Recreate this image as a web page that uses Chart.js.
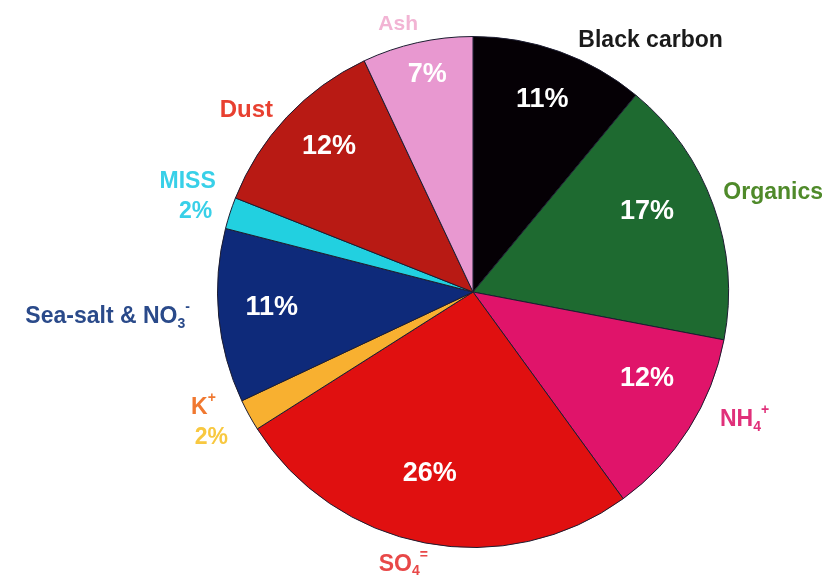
<!DOCTYPE html>
<html>
<head>
<meta charset="utf-8">
<script src="https://cdn.jsdelivr.net/npm/chart.js@4/dist/chart.umd.min.js"></script>
<style>
  body { margin: 0; background: #ffffff; }
  #chart-holder { width: 822px; height: 578px; }
</style>
</head>
<body>
<div id="chart-holder"><canvas id="chart" width="822" height="578"></canvas></div>
<script>
// clockwise from 12 o'clock
var categories = ['Black carbon', 'Organics', 'NH4+', 'SO4=', 'K+', 'Sea-salt & NO3-', 'MISS', 'Dust', 'Ash'];
var shares = [11, 17, 12, 26, 2, 11, 2, 12, 7];

var sliceColours = ['#050005', '#1e6a30', '#e0146a', '#e01010', '#f8b030', '#0e2a7a', '#22d0e0', '#b81a14', '#e898d0'];
var labelColours = ['#1a1a1a', '#4f8a2a', '#e0307a', '#e84848', '#f07830', '#2a4a8a', '#38d0e8', '#e84030', '#f2b4d4'];
var smallPctColours = { 4: '#f8c840', 6: '#38d0e8' };

// where the outside names sit, in units of the pie radius from its centre
var nameDx = [0.695, 1.175, 1.063, -0.273, -1.055, -1.43, -1.117, -0.887, -0.293];
var nameDy = [-0.984, -0.387, 0.5, 1.066, 0.453, 0.098, -0.43, -0.711, -1.047];
var nameSize = [23, 23, 23, 23, 23, 23, 23, 24, 21];
// inside % labels: radius factor and small angle nudge (deg)
var pctR = [0.8, 0.75, 0.76, 0.73, 0.8, 0.79, 0.8, 0.8, 0.87];
var pctShift = [0, -5, -6, 2.6, 0, 1, 0, 2, 0.7];

var FONT = '"Liberation Sans", Arial, Helvetica, sans-serif';

function parseLabel(text) {
  var segs = [];
  for (var i = 0; i < text.length; i++) {
    var ch = text[i];
    var prev = i > 0 ? text[i - 1] : '';
    var kind = 'n';
    if (/[0-9]/.test(ch) && /[A-Za-z]/.test(prev)) kind = 'sub';
    else if (i === text.length - 1 && /[+\-=]/.test(ch) && prev !== ' ') kind = 'sup';
    if (segs.length && segs[segs.length - 1].kind === kind) segs[segs.length - 1].t += ch;
    else segs.push({ t: ch, kind: kind });
  }
  return segs;
}

function drawRich(ctx, text, cx, cy, size, colour) {
  var segs = parseLabel(text);
  var small = Math.round(size * 0.62);
  var total = 0;
  segs.forEach(function(s) {
    ctx.font = 'bold ' + (s.kind === 'n' ? size : small) + 'px ' + FONT;
    s.w = ctx.measureText(s.t).width;
    total += s.w;
  });
  var x = cx - total / 2;
  ctx.fillStyle = colour;
  ctx.textAlign = 'left';
  ctx.textBaseline = 'middle';
  segs.forEach(function(s) {
    var dy = 0;
    if (s.kind === 'sub') dy = size * 0.3;
    if (s.kind === 'sup') dy = -size * 0.42;
    ctx.font = 'bold ' + (s.kind === 'n' ? size : small) + 'px ' + FONT;
    ctx.fillText(s.t, x, cy + dy);
    x += s.w;
  });
}

var sliceLabels = {
  id: 'sliceLabels',
  afterDatasetsDraw: function(chart) {
    var ctx = chart.ctx;
    var meta = chart.getDatasetMeta(0);
    ctx.save();
    meta.data.forEach(function(arc, i) {
      var r = arc.outerRadius;
      var mid = (arc.startAngle + arc.endAngle) / 2 + pctShift[i] * Math.PI / 180;
      var pct = shares[i] + '%';
      var nx = arc.x + nameDx[i] * r;
      var ny = arc.y + nameDy[i] * r;
      drawRich(ctx, categories[i], nx, ny, nameSize[i], labelColours[i]);
      if (shares[i] >= 5) {
        var px = arc.x + Math.cos(mid) * r * pctR[i];
        var py = arc.y + Math.sin(mid) * r * pctR[i];
        drawRich(ctx, pct, px, py, 27, '#ffffff');
      } else {
        drawRich(ctx, pct, nx + 8, ny + 30, 23, smallPctColours[i] || labelColours[i]);
      }
    });
    ctx.restore();
  }
};

var ctx = document.getElementById('chart').getContext('2d');
var pieChart = new Chart(ctx, {
  type: 'pie',
  data: {
    labels: categories,
    datasets: [{
      data: shares,
      backgroundColor: sliceColours,
      borderColor: '#1c1c30',
      borderWidth: 1
    }]
  },
  options: {
    responsive: false,
    animation: false,
    layout: { padding: { left: 217, right: 93, top: 36, bottom: 30 } },
    plugins: {
      legend: { display: false },
      tooltip: { enabled: false }
    }
  },
  plugins: [sliceLabels]
});
</script>
</body>
</html>
